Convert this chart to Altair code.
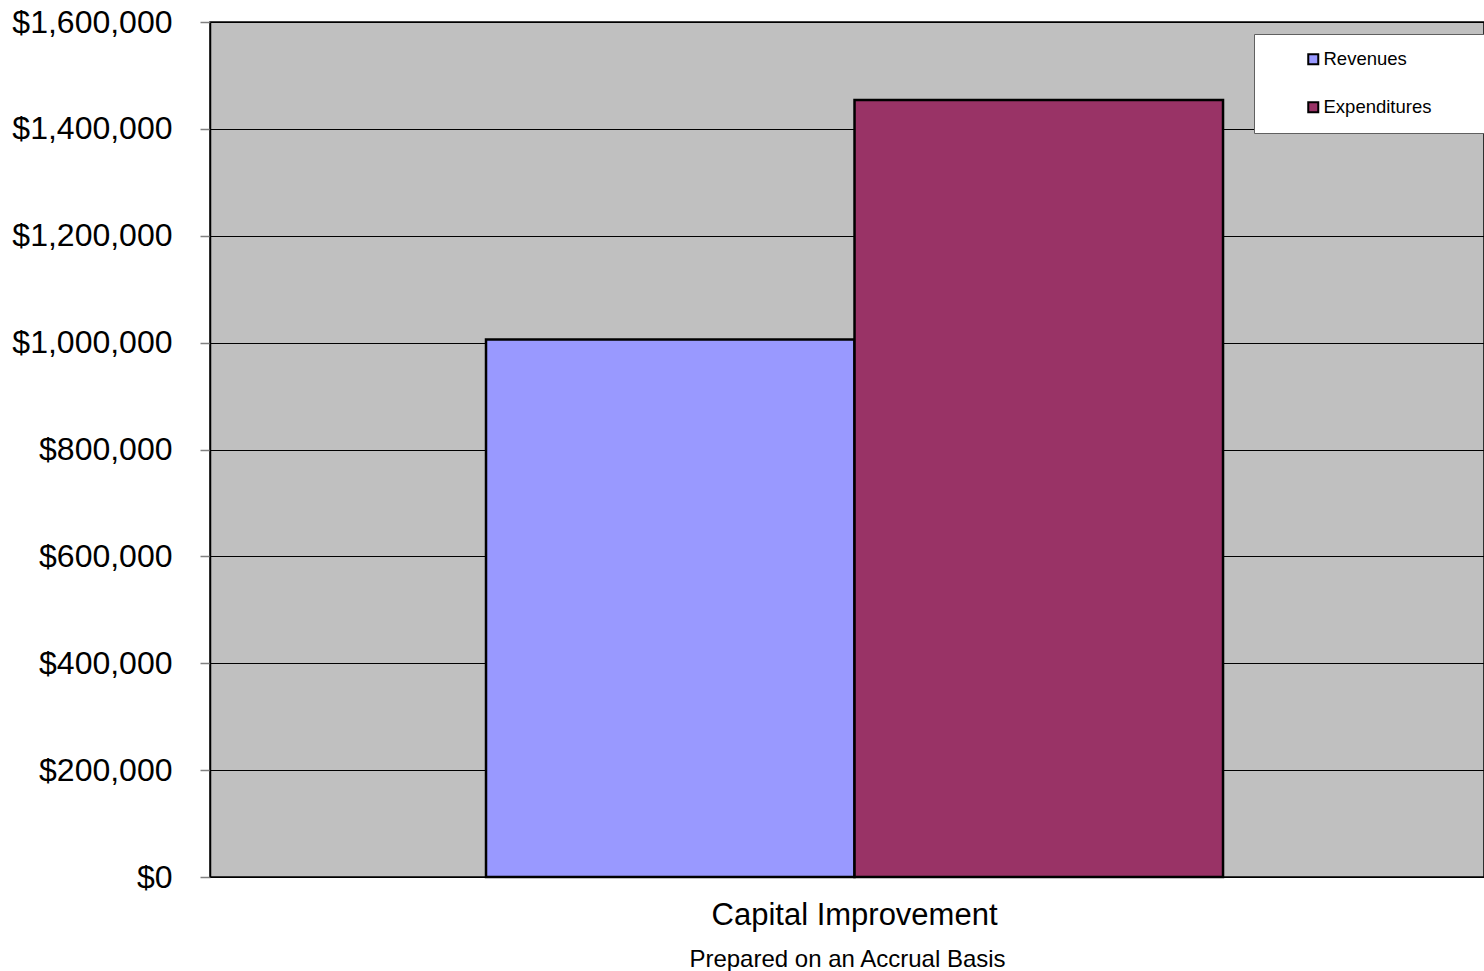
import altair as alt
import pandas as pd

categories = ["Capital Improvement"]
series = ["Revenues", "Expenditures"]
values = [1006000, 1454000]
colors = ["#9999FF", "#993366"]
y_ticks = [0, 200000, 400000, 600000, 800000, 1000000, 1200000, 1400000, 1600000]

df = pd.DataFrame({
    "category": [categories[0]] * len(series),
    "series": series,
    "value": values,
})

FONT = "Liberation Sans"
PAD = "\u2800" * 3

bars = alt.Chart(df).mark_bar(stroke="black", strokeWidth=2.5).encode(
    x=alt.X(
        "category:N",
        scale=alt.Scale(paddingInner=0, paddingOuter=0.3643, align=0.514),
        axis=alt.Axis(
            title="Prepared on an Accrual Basis",
            labelFontSize=31,
            labelFont=FONT,
            labelColor="black",
            labelAngle=0,
            labelBaseline="top",
            labelPadding=23,
            labelLimit=1000,
            ticks=False,
            tickSize=0,
            domain=False,
            titleFontSize=24,
            titleFont=FONT,
            titleFontWeight="normal",
            titleColor="black",
            titleBaseline="alphabetic",
            titleY=89,
        ),
    ),
    xOffset=alt.XOffset("series:N", sort=series,
                        scale=alt.Scale(paddingInner=0, paddingOuter=0)),
    y=alt.Y(
        "value:Q",
        scale=alt.Scale(domain=[0, 1600000], nice=False),
        axis=alt.Axis(
            title=None,
            values=y_ticks,
            format="$,.0f",
            labelFontSize=32,
            labelFont=FONT,
            labelColor="black",
            labelPadding=28,
            tickSize=10,
            tickColor="#808080",
            tickWidth=1.5,
            domainColor="black",
            domainWidth=1.5,
            grid=True,
            gridColor="black",
            gridWidth=1,
        ),
    ),
    fill=alt.Fill(
        "series:N",
        sort=series,
        scale=alt.Scale(domain=series, range=colors),
        legend=alt.Legend(
            title=None,
            orient="none",
            legendX=1044,
            legendY=12,
            fillColor="white",
            strokeColor="#606060",
            padding=16,
            symbolType="square",
            symbolSize=100,
            symbolStrokeColor="black",
            symbolStrokeWidth=2,
            symbolOffset=34,
            labelFontSize=18.5,
            labelFont=FONT,
            labelColor="black",
            labelOffset=1,
            labelLimit=1000,
            rowPadding=29,
            labelExpr="datum.label + '" + PAD + "'",
        ),
    ),
)

chart = bars.properties(
    width=1274,
    height=855,
    autosize=alt.AutoSizeParams(type="none"),
    padding={"left": 210, "top": 22, "right": 0, "bottom": 94},
    background="white",
).configure_view(
    fill="#C0C0C0",
    stroke="black",
    strokeWidth=1.5,
)

chart.save("out.html", embed_options={"renderer": "svg", "actions": False})
